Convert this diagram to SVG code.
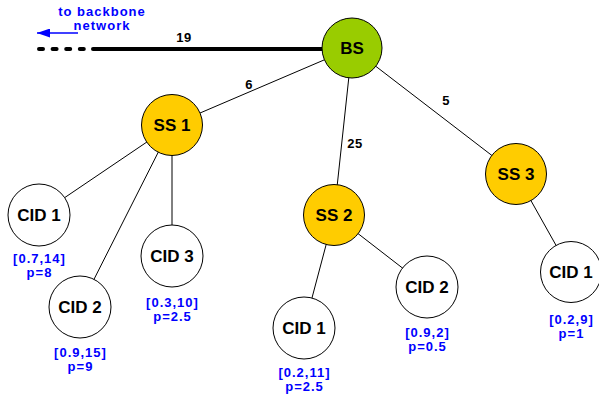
<svg xmlns="http://www.w3.org/2000/svg" width="599" height="403" viewBox="0 0 599 403">
<defs>
<style>
.edge{stroke:#000;stroke-width:1;fill:none}
.node{stroke:#000;stroke-width:1}
.nt{font-family:"Liberation Sans",Arial,sans-serif;font-weight:bold;font-size:17px;text-anchor:middle;fill:#000}
.lbl{font-family:"Liberation Sans",Arial,sans-serif;font-weight:bold;font-size:13px;letter-spacing:1px;text-anchor:middle;fill:#0000ff}
.el{font-family:"Liberation Sans",Arial,sans-serif;font-weight:bold;font-size:13px;letter-spacing:0.5px;text-anchor:middle;fill:#000}
</style>
<marker id="ah" markerWidth="13" markerHeight="9" refX="13" refY="4.5" orient="auto" markerUnits="userSpaceOnUse">
<path d="M0,0 L13,4.5 L0,9 Z" fill="#0000ff"/>
</marker>
</defs>
<rect width="599" height="403" fill="#fff"/>
<g id="connectors">
<line class="edge" x1="352" y1="48" x2="172" y2="125"/>
<line class="edge" x1="352" y1="48" x2="334" y2="215"/>
<line class="edge" x1="352" y1="48" x2="516" y2="174"/>
<line class="edge" x1="172" y1="125" x2="39" y2="215"/>
<line class="edge" x1="172" y1="125" x2="80" y2="307"/>
<line class="edge" x1="172" y1="125" x2="172" y2="256"/>
<line class="edge" x1="334" y1="215" x2="304" y2="328"/>
<line class="edge" x1="334" y1="215" x2="427" y2="287"/>
<line class="edge" x1="516" y1="174" x2="571" y2="272"/>
<line x1="93" y1="49" x2="322" y2="49" stroke="#000" stroke-width="4" stroke-linecap="round"/>
<line x1="39" y1="49" x2="85" y2="49" stroke="#000" stroke-width="4" stroke-linecap="round" stroke-dasharray="4 9.6"/>
<line x1="78" y1="33" x2="37" y2="33" stroke="#0000ff" stroke-width="1.3" marker-end="url(#ah)"/>
<text class="lbl" x="102" y="16">to backbone</text>
<text class="lbl" x="102" y="30">network</text>
<text class="el" x="184" y="42">19</text>
<text class="el" x="249" y="89">6</text>
<text class="el" x="355" y="148">25</text>
<text class="el" x="446" y="105">5</text>
</g>
<g id="BS"><circle class="node" cx="352" cy="48" r="30" fill="#99cc00"/><text class="nt" x="352" y="54">BS</text></g>
<g id="SS1"><circle class="node" cx="172" cy="125" r="30.5" fill="#ffcc00"/><text class="nt" x="172" y="131">SS 1</text></g>
<g id="SS2"><circle class="node" cx="334" cy="215" r="30.5" fill="#ffcc00"/><text class="nt" x="334" y="221">SS 2</text></g>
<g id="SS3"><circle class="node" cx="516" cy="174" r="30.5" fill="#ffcc00"/><text class="nt" x="516" y="180">SS 3</text></g>
<g id="SS1-CID1"><circle class="node" cx="39" cy="215" r="31" fill="#fff"/><text class="nt" x="39" y="221">CID 1</text>
<text class="lbl" x="39.5" y="263">[0.7,14]</text><text class="lbl" x="39.5" y="277">p=8</text></g>
<g id="SS1-CID2"><circle class="node" cx="80" cy="307" r="31" fill="#fff"/><text class="nt" x="80" y="313">CID 2</text>
<text class="lbl" x="80.5" y="357">[0.9,15]</text><text class="lbl" x="80.5" y="371">p=9</text></g>
<g id="SS1-CID3"><circle class="node" cx="172" cy="256" r="31" fill="#fff"/><text class="nt" x="172" y="262">CID 3</text>
<text class="lbl" x="172.5" y="307">[0.3,10]</text><text class="lbl" x="172.5" y="321">p=2.5</text></g>
<g id="SS2-CID1"><circle class="node" cx="304" cy="328" r="31" fill="#fff"/><text class="nt" x="304" y="334">CID 1</text>
<text class="lbl" x="304.5" y="377">[0.2,11]</text><text class="lbl" x="304.5" y="391">p=2.5</text></g>
<g id="SS2-CID2"><circle class="node" cx="427" cy="287" r="31" fill="#fff"/><text class="nt" x="427" y="293">CID 2</text>
<text class="lbl" x="427.5" y="337">[0.9,2]</text><text class="lbl" x="427.5" y="351">p=0.5</text></g>
<g id="SS3-CID1"><circle class="node" cx="571" cy="272" r="30.5" fill="#fff"/><text class="nt" x="571" y="278">CID 1</text>
<text class="lbl" x="571.5" y="324">[0.2,9]</text><text class="lbl" x="571.5" y="338">p=1</text></g>
</svg>
